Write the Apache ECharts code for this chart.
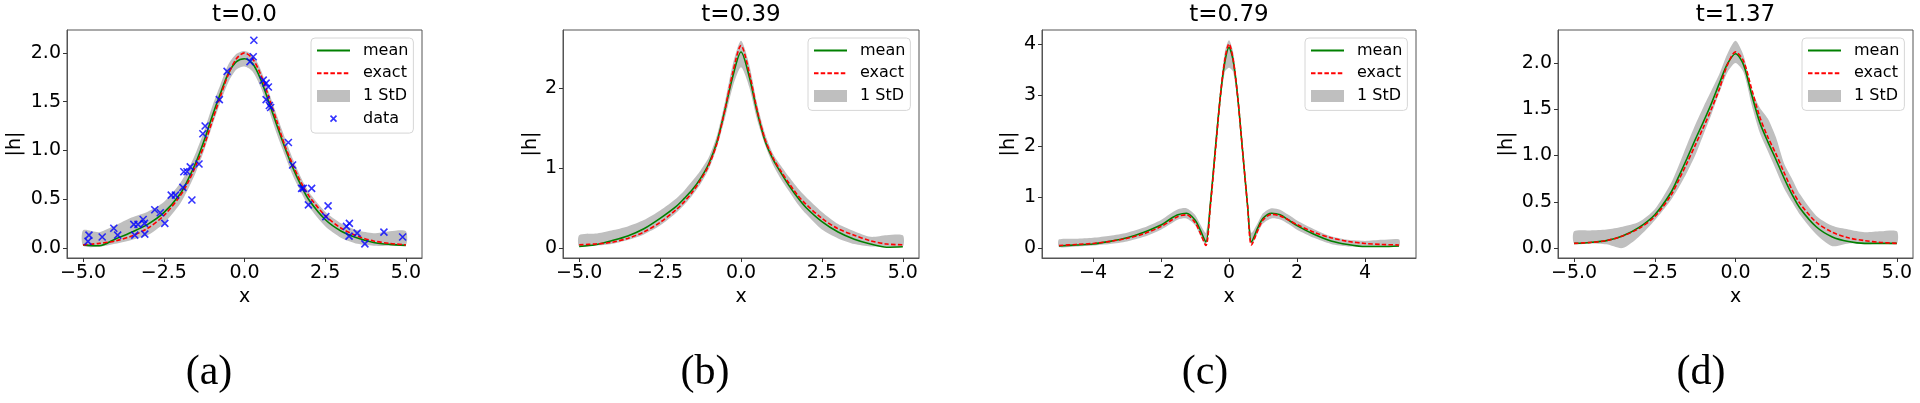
<!DOCTYPE html>
<html>
<head>
<meta charset="utf-8">
<script src="https://cdn.jsdelivr.net/npm/echarts@6/dist/echarts.min.js"></script>
<style>
  html, body { margin: 0; background: #fff; }
  #main { width: 1920px; height: 403px; }
</style>
</head>
<body>
<div id="main"></div>
<script>
// x positions shared by panels (a), (b), (d)
var xs = [-5, -4.5, -4, -3.5, -3, -2.5, -2, -1.75, -1.5, -1.25, -1, -0.75, -0.5, -0.25, 0,
          0.25, 0.5, 0.75, 1, 1.25, 1.5, 1.75, 2, 2.5, 3, 3.5, 4, 4.5, 5];

// (a) t=0.0
var exactA = [0.03, 0.045, 0.07, 0.12, 0.2, 0.33, 0.53, 0.67, 0.85, 1.05, 1.30, 1.55, 1.78, 1.94, 2.0,
              1.94, 1.78, 1.55, 1.30, 1.05, 0.85, 0.67, 0.53, 0.33, 0.2, 0.12, 0.07, 0.045, 0.03];
var meanA  = [0.03, 0.02, 0.09, 0.16, 0.24, 0.36, 0.55, 0.70, 0.88, 1.10, 1.35, 1.58, 1.79, 1.91, 1.94,
              1.89, 1.73, 1.50, 1.26, 1.03, 0.82, 0.64, 0.49, 0.29, 0.17, 0.10, 0.055, 0.035, 0.025];
var lowA   = [0.02, 0.01, 0.04, 0.08, 0.13, 0.25, 0.45, 0.60, 0.78, 1.0, 1.25, 1.49, 1.70, 1.83, 1.86,
              1.81, 1.65, 1.42, 1.17, 0.95, 0.74, 0.57, 0.42, 0.22, 0.10, 0.04, 0.02, 0.02, 0.03];
var upA    = [0.18, 0.16, 0.23, 0.31, 0.37, 0.47, 0.66, 0.80, 0.98, 1.20, 1.45, 1.67, 1.88, 1.99, 2.02,
              1.98, 1.83, 1.60, 1.36, 1.13, 0.91, 0.72, 0.57, 0.37, 0.25, 0.18, 0.15, 0.17, 0.17];
var dataX = [-4.82, -4.85, -4.41, -4.05, -3.93, -3.43, -3.40, -3.30, -3.14, -3.10, -3.09, -2.78, -2.61,
             -2.47, -2.27, -2.14, -1.91, -1.88, -1.78, -1.68, -1.63, -1.41, -1.29, -1.22, -0.78, -0.54,
             0.29, 0.17, 0.27, 0.58, 0.67, 0.74, 0.67, 0.77, 0.81, 1.36, 1.49, 1.77, 1.82, 2.08, 1.98,
             2.52, 2.59, 3.16, 3.25, 3.24, 3.49, 3.73, 4.32, 4.90];
var dataY = [0.13, 0.065, 0.11, 0.20, 0.13, 0.24, 0.13, 0.24, 0.29, 0.25, 0.14, 0.39, 0.36,
             0.25, 0.54, 0.54, 0.62, 0.78, 0.78, 0.83, 0.49, 0.86, 1.17, 1.25, 1.52, 1.81,
             2.13, 1.91, 1.96, 1.72, 1.69, 1.65, 1.52, 1.46, 1.44, 1.08, 0.85, 0.61, 0.61, 0.61, 0.44,
             0.32, 0.43, 0.22, 0.25, 0.12, 0.15, 0.04, 0.16, 0.11];

// (b) t=0.39
var exactB = [0.04, 0.05, 0.07, 0.12, 0.2, 0.32, 0.48, 0.58, 0.70, 0.85, 1.03, 1.30, 1.72, 2.2, 2.53,
              2.2, 1.72, 1.35, 1.12, 0.95, 0.80, 0.66, 0.55, 0.37, 0.24, 0.16, 0.09, 0.05, 0.04];
var meanB  = [0.02, 0.04, 0.09, 0.15, 0.24, 0.37, 0.52, 0.62, 0.73, 0.87, 1.05, 1.32, 1.72, 2.15, 2.45,
              2.15, 1.70, 1.33, 1.10, 0.93, 0.77, 0.63, 0.51, 0.33, 0.20, 0.11, 0.05, 0.01, 0.015];
var lowB   = [0.02, 0.03, 0.05, 0.10, 0.17, 0.28, 0.44, 0.54, 0.66, 0.80, 0.98, 1.25, 1.62, 2.02, 2.26,
              2.02, 1.60, 1.28, 1.03, 0.85, 0.70, 0.55, 0.43, 0.23, 0.12, 0.05, 0.02, 0.02, 0.02];
var upB    = [0.16, 0.18, 0.22, 0.27, 0.35, 0.47, 0.62, 0.72, 0.84, 0.97, 1.13, 1.40, 1.82, 2.30, 2.59,
              2.30, 1.80, 1.42, 1.17, 1.02, 0.88, 0.75, 0.64, 0.45, 0.30, 0.21, 0.14, 0.16, 0.16];

// (c) t=0.79, finer around the central peak
var xsC = [-5, -4.5, -4, -3.5, -3, -2.5, -2, -1.75, -1.5, -1.25, -1, -0.85, -0.68, -0.55, -0.4, -0.25,
           -0.12, 0, 0.12, 0.25, 0.4, 0.55, 0.66, 0.85, 1, 1.25, 1.5, 1.75, 2, 2.5, 3, 3.5, 4, 4.5, 5];
var exactC = [0.05, 0.07, 0.09, 0.13, 0.19, 0.28, 0.42, 0.52, 0.62, 0.65, 0.5, 0.3, 0.05, 0.8, 1.9, 3.0,
              3.7, 4.0, 3.7, 3.0, 1.9, 0.8, 0.06, 0.35, 0.55, 0.66, 0.63, 0.55, 0.46, 0.31, 0.2, 0.13, 0.09, 0.07, 0.06];
var meanC  = [0.04, 0.06, 0.08, 0.13, 0.2, 0.31, 0.45, 0.56, 0.65, 0.68, 0.55, 0.36, 0.12, 0.85, 1.95, 3.0,
              3.65, 3.93, 3.68, 3.0, 1.9, 0.8, 0.12, 0.4, 0.58, 0.68, 0.65, 0.55, 0.44, 0.27, 0.14, 0.07, 0.03, 0.03, 0.04];
var lowC   = [0.02, 0.03, 0.05, 0.08, 0.13, 0.22, 0.36, 0.46, 0.56, 0.58, 0.45, 0.25, 0.06, 0.7, 1.8, 2.85,
              3.45, 3.53, 3.45, 2.85, 1.78, 0.7, 0.06, 0.3, 0.48, 0.58, 0.56, 0.47, 0.36, 0.2, 0.08, 0.03, 0.02, 0.03, 0.03];
var upC    = [0.17, 0.18, 0.2, 0.24, 0.3, 0.4, 0.55, 0.66, 0.76, 0.78, 0.65, 0.47, 0.3, 1.0, 2.1, 3.15,
              3.85, 4.07, 3.85, 3.15, 2.05, 0.95, 0.3, 0.5, 0.68, 0.78, 0.75, 0.65, 0.54, 0.37, 0.23, 0.16, 0.14, 0.16, 0.17];

// (d) t=1.37
var exactD = [0.05, 0.06, 0.08, 0.13, 0.21, 0.34, 0.57, 0.74, 0.92, 1.11, 1.30, 1.50, 1.72, 1.98, 2.12,
              2.02, 1.72, 1.42, 1.20, 1.02, 0.82, 0.63, 0.48, 0.28, 0.17, 0.11, 0.08, 0.06, 0.05];
var meanD  = [0.05, 0.06, 0.08, 0.13, 0.22, 0.36, 0.60, 0.78, 0.97, 1.17, 1.36, 1.56, 1.78, 1.99, 2.10,
              1.98, 1.66, 1.36, 1.15, 0.96, 0.76, 0.58, 0.43, 0.23, 0.12, 0.07, 0.05, 0.05, 0.05];
var lowD   = [0.05, 0.05, 0.04, 0.0, 0.12, 0.30, 0.52, 0.66, 0.82, 1.0, 1.22, 1.44, 1.68, 1.90, 2.0,
              1.90, 1.55, 1.25, 1.05, 0.85, 0.65, 0.50, 0.36, 0.15, 0.02, 0.05, 0.04, 0.05, 0.05];
var upD    = [0.18, 0.19, 0.2, 0.23, 0.28, 0.42, 0.70, 0.90, 1.12, 1.33, 1.52, 1.70, 1.88, 2.10, 2.24,
              2.08, 1.72, 1.52, 1.40, 1.20, 0.92, 0.75, 0.58, 0.35, 0.24, 0.2, 0.17, 0.18, 0.18];

var titles = ['t=0.0', 't=0.39', 't=0.79', 't=1.37'];
var subLabels = ['(a)', '(b)', '(c)', '(d)'];
var xTicks = [[-5, -2.5, 0, 2.5, 5], [-5, -2.5, 0, 2.5, 5], [-4, -2, 0, 2, 4], [-5, -2.5, 0, 2.5, 5]];
var yTicks = [[0, 0.5, 1, 1.5, 2], [0, 1, 2], [0, 1, 2, 3, 4], [0, 0.5, 1, 1.5, 2]];
var yRange = [[-0.105, 2.235], [-0.125, 2.725], [-0.195, 4.27], [-0.108, 2.357]];
var xDecimals = [1, 1, 0, 1];
var yDecimals = [1, 0, 0, 1];

var panels = [
  { x: xs, mean: meanA, exact: exactA, low: lowA, up: upA },
  { x: xs, mean: meanB, exact: exactB, low: lowB, up: upB },
  { x: xsC, mean: meanC, exact: exactC, low: lowC, up: upC },
  { x: xs, mean: meanD, exact: exactD, low: lowD, up: upD }
];

var grids = [
  { left: 67, top: 30, width: 355, height: 228 },
  { left: 563, top: 30, width: 356, height: 228 },
  { left: 1042, top: 30, width: 374, height: 228 },
  { left: 1558, top: 30, width: 355, height: 228 }
];
var yNameGap = [42, 21, 23, 41];
var subLabelX = [209, 705, 1205, 1701];

var FONT = 'DejaVu Sans';
var frameColor = '#555';
var bandColor = '#bfbfbf';

function fmt(d) {
  return function (v) { return v.toFixed(d).replace('-', '\u2212'); };
}
function pairs(x, y) {
  return x.map(function (v, i) { return [v, y[i]]; });
}

// shaded band between low and up, drawn as one polygon through the axis scales
function bandRenderer(p) {
  return function (params, api) {
    if (params.dataIndexInside !== 0) return;
    var pts = [];
    for (var i = 0; i < p.x.length; i++) pts.push(api.coord([p.x[i], p.up[i]]));
    for (var j = p.x.length - 1; j >= 0; j--) pts.push(api.coord([p.x[j], p.low[j]]));
    return {
      type: 'polygon',
      shape: { points: pts, smooth: 0.25, smoothConstraint: false },
      style: { fill: bandColor, stroke: null }
    };
  };
}

var xAxes = [], yAxes = [], series = [], legends = [], titleList = [];

grids.forEach(function (g, i) {
  g.show = true;
  g.borderColor = frameColor;
  g.borderWidth = 1;

  xAxes.push({
    gridIndex: i, type: 'value', min: -5.5, max: 5.5,
    name: 'x', nameLocation: 'middle', nameGap: 29,
    nameTextStyle: { fontFamily: FONT, fontSize: 19, color: '#000' },
    axisLine: { show: true, onZero: false, lineStyle: { color: frameColor, width: 1 } },
    axisTick: { show: true, length: 4, customValues: xTicks[i], lineStyle: { color: '#333' } },
    axisLabel: { customValues: xTicks[i], formatter: fmt(xDecimals[i]), margin: 6,
                 fontFamily: FONT, fontSize: 19, color: '#000' },
    splitLine: { show: false }
  });
  yAxes.push({
    gridIndex: i, type: 'value', min: yRange[i][0], max: yRange[i][1],
    name: '|h|', nameLocation: 'middle', nameGap: yNameGap[i], nameRotate: 90,
    nameTextStyle: { fontFamily: FONT, fontSize: 19, color: '#000' },
    axisLine: { show: true, onZero: false, lineStyle: { color: frameColor, width: 1 } },
    axisTick: { show: true, length: 4, customValues: yTicks[i], lineStyle: { color: '#333' } },
    axisLabel: { customValues: yTicks[i], formatter: fmt(yDecimals[i]), margin: 6,
                 fontFamily: FONT, fontSize: 19, color: '#000' },
    splitLine: { show: false }
  });

  var p = panels[i];
  series.push({
    name: '1 StD', type: 'custom', xAxisIndex: i, yAxisIndex: i, silent: true, clip: true,
    data: p.x.map(function (v, k) { return [v, p.low[k], p.up[k]]; }),
    encode: { x: 0, y: [1, 2] },
    itemStyle: { color: bandColor },
    renderItem: bandRenderer(p),
    z: 1
  });
  series.push({
    name: 'mean', type: 'line', xAxisIndex: i, yAxisIndex: i,
    data: pairs(p.x, p.mean), smooth: 0.3, symbol: 'none', silent: true,
    itemStyle: { color: '#008000' },
    lineStyle: { color: '#008000', width: 1.6 },
    z: 2
  });
  series.push({
    name: 'exact', type: 'line', xAxisIndex: i, yAxisIndex: i,
    data: pairs(p.x, p.exact), smooth: 0.3, symbol: 'none', silent: true,
    itemStyle: { color: '#ff0000' },
    lineStyle: { color: '#ff0000', width: 1.6, type: [4.5, 2.2] },
    z: 3
  });

  var hidden = { color: 'rgba(0,0,0,0)', opacity: 0, borderWidth: 0 };
  var items = [
    { name: 'mean', itemStyle: hidden },
    { name: 'exact', itemStyle: hidden },
    { name: '1 StD', icon: 'rect', itemStyle: { color: bandColor } }
  ];
  if (i === 0) {
    items.push({
      name: 'data',
      icon: 'path://M-5 -5M0 0L10 10M10 0L0 10M15 15',
      itemStyle: { color: 'rgba(0,0,0,0)', borderColor: '#0000ff', borderWidth: 1.6 }
    });
  }
  legends.push({
    data: items, orient: 'vertical', selectedMode: false,
    left: g.left + g.width - 111, top: 38,
    itemWidth: 33, itemHeight: 12, itemGap: 5.7,
    padding: [4, 5, 6, 5],
    borderColor: '#d6d6d6', borderWidth: 1, borderRadius: 4,
    backgroundColor: 'rgba(255,255,255,0.8)',
    textStyle: { fontFamily: FONT, fontSize: 16, lineHeight: 17, color: '#000', padding: [0, 0, 0, 8] }
  });

  titleList.push({
    text: titles[i], left: g.left + g.width / 2, top: 4, textAlign: 'center', padding: 0,
    textStyle: { fontFamily: FONT, fontSize: 23, fontWeight: 'normal', color: '#000' }
  });
  titleList.push({
    text: subLabels[i], left: subLabelX[i], top: 352, textAlign: 'center', padding: 0,
    textStyle: { fontFamily: 'Liberation Serif', fontSize: 42, fontWeight: 'normal', color: '#000' }
  });
});

series.push({
  name: 'data', type: 'scatter', xAxisIndex: 0, yAxisIndex: 0,
  data: pairs(dataX, dataY), silent: true,
  symbol: 'path://M0 0L10 10M10 0L0 10', symbolSize: 7,
  itemStyle: { color: 'rgba(0,0,0,0)', borderColor: '#0000ff', borderWidth: 1.6 },
  z: 5
});

var myChart = echarts.init(document.getElementById('main'), null, { renderer: 'canvas' });
myChart.setOption({
  animation: false,
  title: titleList,
  legend: legends,
  grid: grids,
  xAxis: xAxes,
  yAxis: yAxes,
  series: series
});
</script>
</body>
</html>
